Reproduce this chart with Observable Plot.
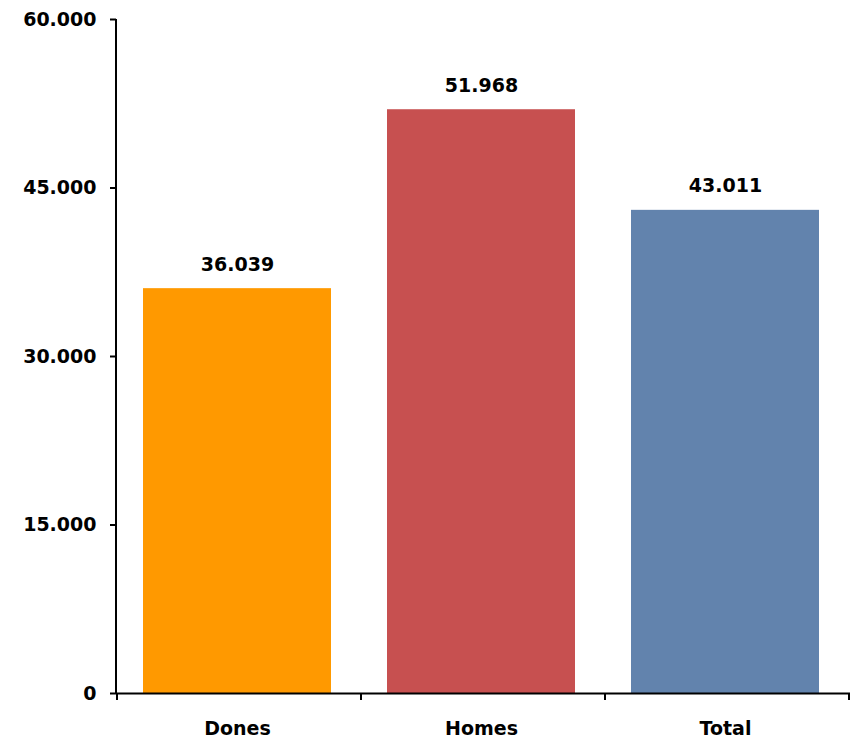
<!DOCTYPE html>
<html>
<head>
<meta charset="utf-8">
<script src="https://cdn.jsdelivr.net/npm/d3@7"></script>
<script src="https://cdn.jsdelivr.net/npm/@observablehq/plot@0.6"></script>
<style>
  body { margin: 0; background: #fff; }
  #chart svg { display: block; }
</style>
</head>
<body>
<div id="chart"></div>
<script>
const categories = ["Dones", "Homes", "Total"];
const values = [36039, 51968, 43011];
const colors = ["#FF9900", "#C75050", "#6283AD"];
const yTicks = [0, 15000, 30000, 45000, 60000];

const data = categories.map((c, i) => ({ category: c, value: values[i] }));
const fmt = d3.formatLocale({ decimal: ",", thousands: ".", grouping: [3] }).format(",d");

const W = 858, H = 739;
const mL = 116, mR = 8, mT = 19, mB = 46;

// Category boundary ticks below the x axis
function boundaryTicks(index, scales, values, dims) {
  const x = scales.x;
  const bw = x.bandwidth ? x.bandwidth() : 0;
  const step = x.step ? x.step() : bw;
  const y0 = scales.y(0);
  const g = d3.create("svg:g");
  const xs = categories.map(c => x(c) + bw / 2 - step / 2);
  xs.push(x(categories[categories.length - 1]) + bw / 2 + step / 2);
  for (const px of xs) {
    g.append("line")
      .attr("x1", px).attr("x2", px)
      .attr("y1", y0).attr("y2", y0 + 7)
      .attr("stroke", "#000").attr("stroke-width", 2);
  }
  return g.node();
}

function yAxisLine(index, scales, values, d) {
  return d3.create("svg:line")
    .attr("x1", d.marginLeft).attr("x2", d.marginLeft)
    .attr("y1", d.marginTop).attr("y2", d.height - d.marginBottom)
    .attr("stroke", "#000").attr("stroke-width", 2).node();
}

const chart = Plot.plot({
  width: W,
  height: H,
  marginLeft: mL,
  marginRight: mR,
  marginTop: mT,
  marginBottom: mB,
  style: { fontFamily: "DejaVu Sans", fontWeight: "bold", fontSize: "19px", color: "#000", background: "#fff" },
  x: { domain: categories, paddingInner: 0.23, paddingOuter: 0.115, label: null },
  y: { domain: [0, 60000], label: null },
  color: { domain: categories, range: colors },
  marks: [
    Plot.barY(data, { x: "category", y: "value", fill: "category", dx: -2 }),
    Plot.text(data, {
      x: "category", y: "value", text: d => fmt(d.value),
      lineAnchor: "bottom", dy: -18, dx: -2, fontSize: 19, fontWeight: "bold", fill: "#000"
    }),
    Plot.axisY(yTicks, {
      tickFormat: fmt, tickSize: 6, tickPadding: 14, fontSize: 19, fontWeight: "bold",
      stroke: "#000", strokeWidth: 2, label: null
    }),
    Plot.axisX({ tickSize: 0, tickPadding: 28, dx: -2, fontSize: 19, fontWeight: "bold", label: null }),
    Plot.ruleY([0], { stroke: "#000", strokeWidth: 2 }),
    yAxisLine,
    boundaryTicks
  ]
});

document.getElementById("chart").appendChild(chart);
</script>
</body>
</html>
